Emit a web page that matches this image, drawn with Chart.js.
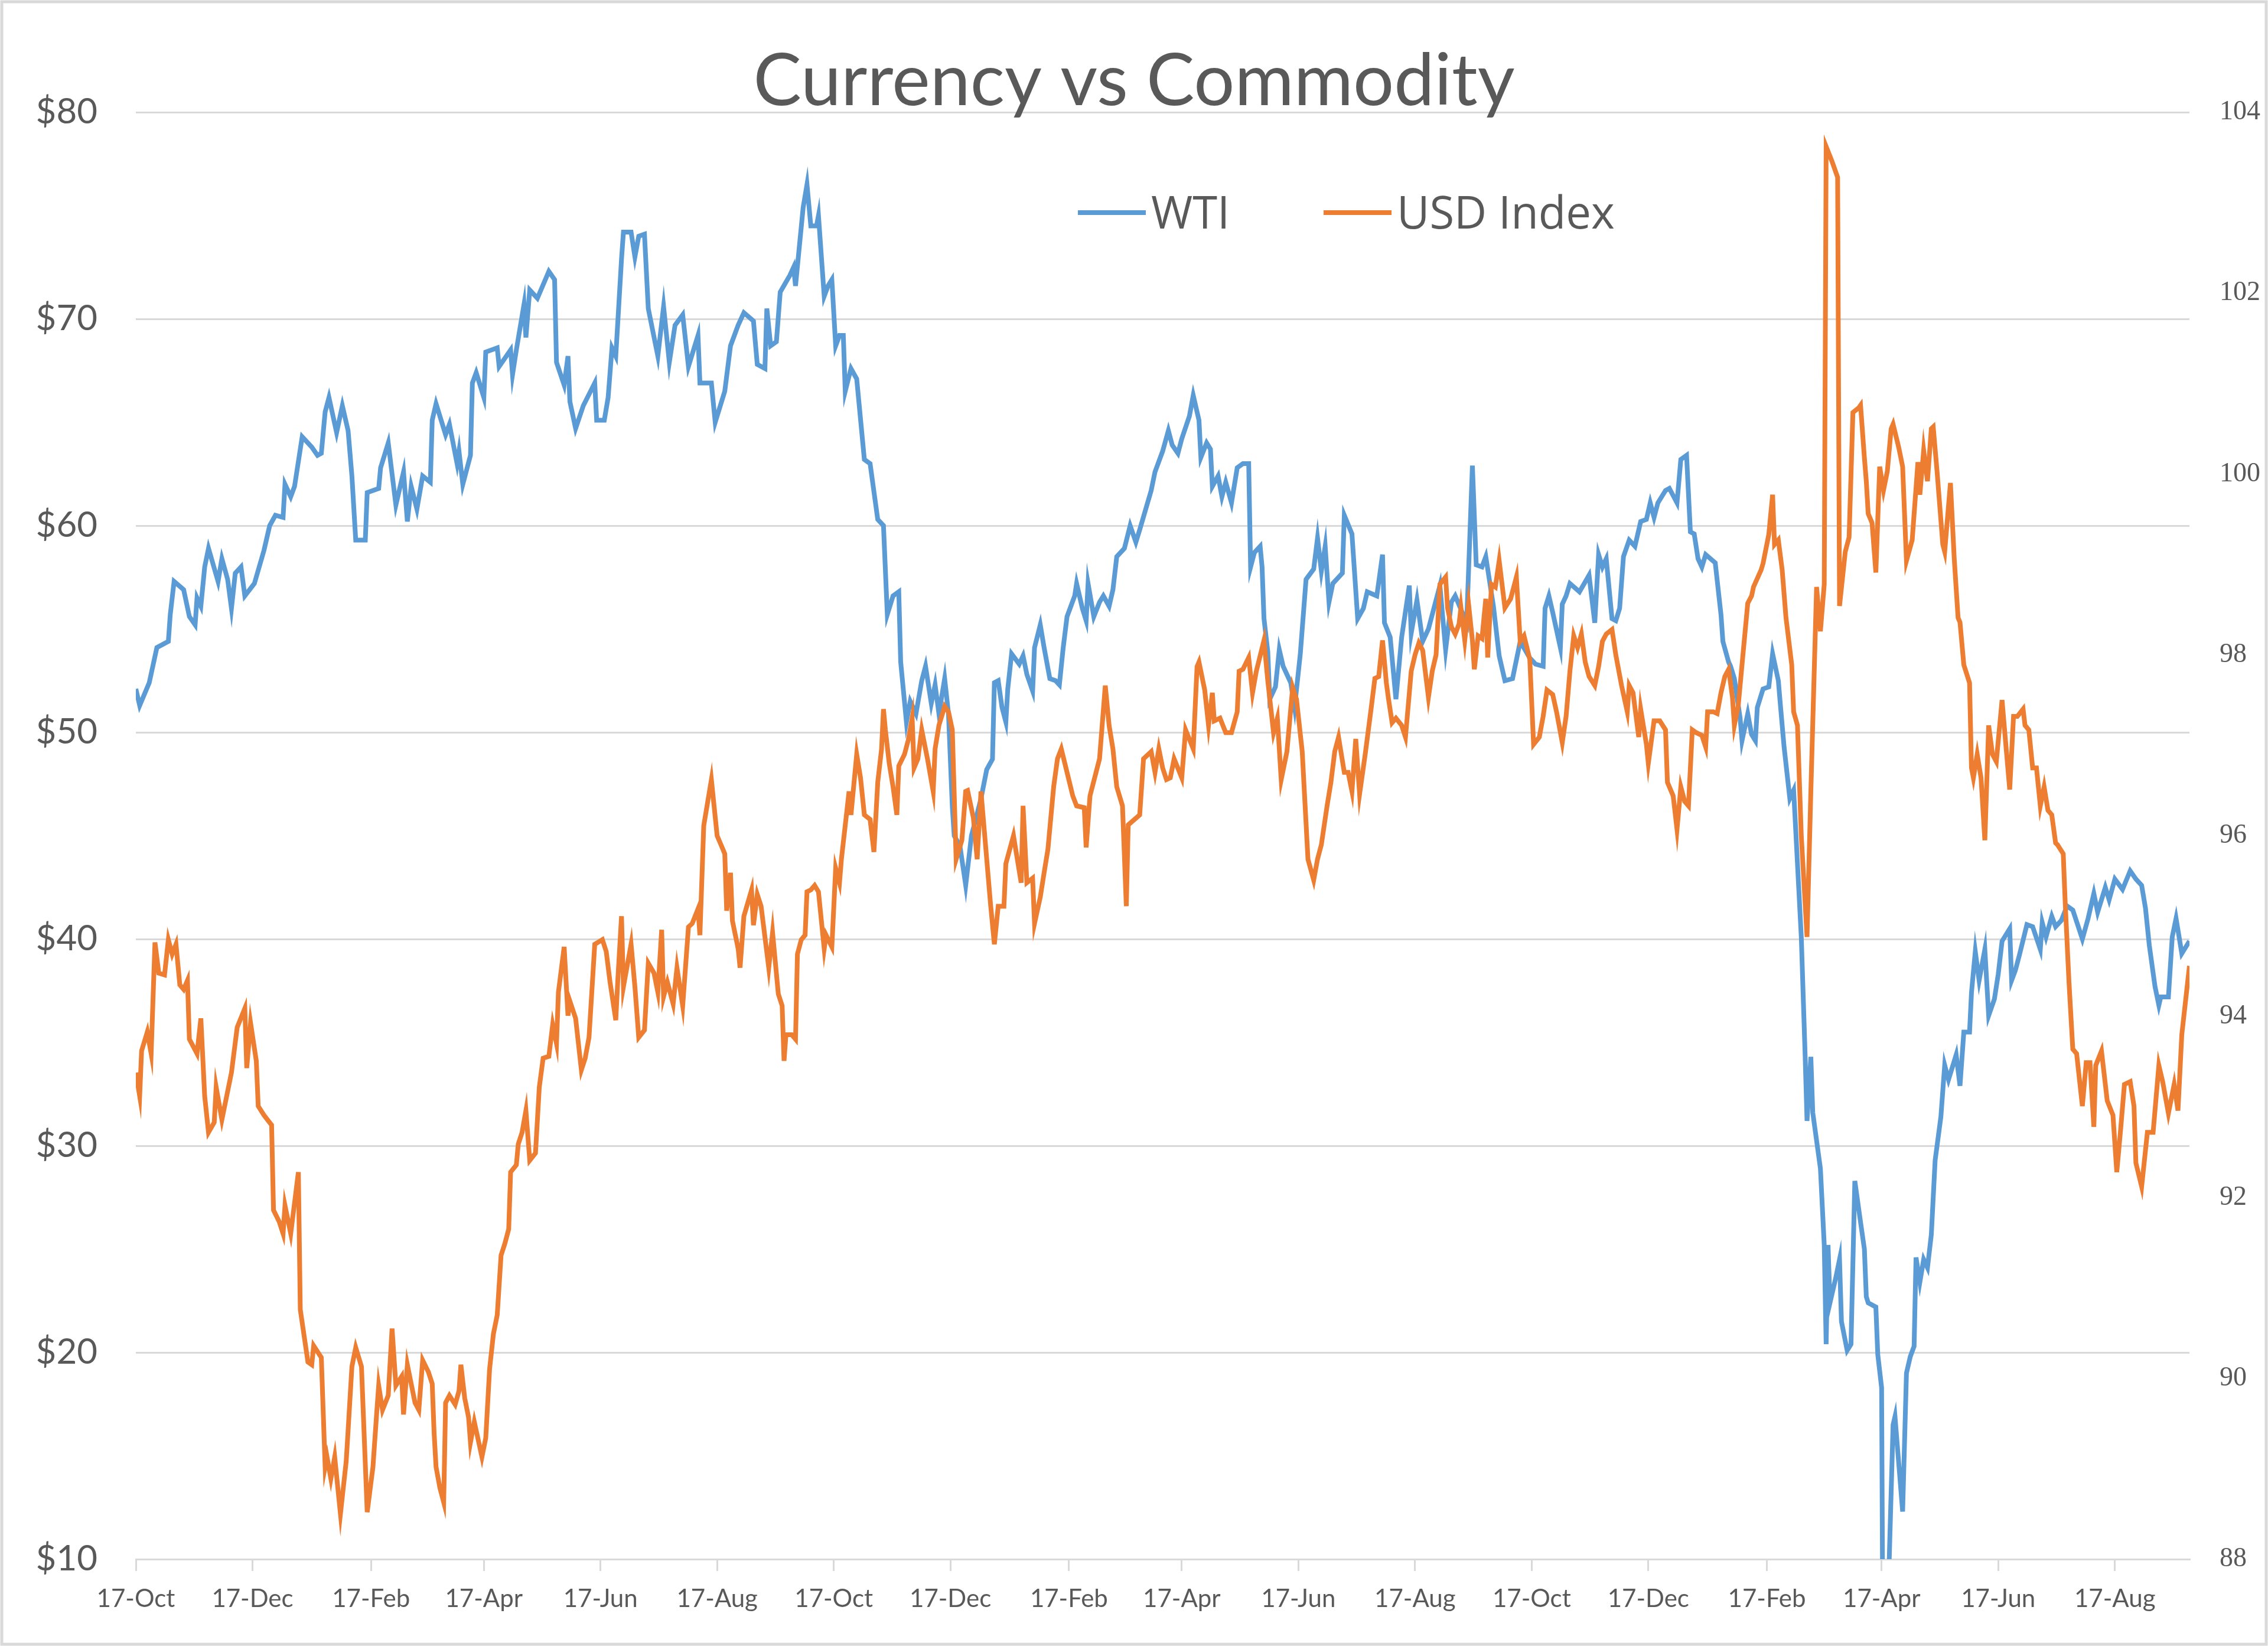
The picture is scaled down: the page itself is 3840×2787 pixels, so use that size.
<!DOCTYPE html>
<html>
<head>
<meta charset="utf-8">
<title>Currency vs Commodity</title>
<script src="https://cdn.jsdelivr.net/npm/chart.js@4.4.0/dist/chart.umd.min.js"></script>
<style>
  html, body { margin: 0; padding: 0; background: #fff; }
  canvas { display: block; }
</style>
</head>
<body>
<canvas id="chart" width="3840" height="2787"></canvas>
<script>
// WTI crude, $ per barrel (left axis)
const wtiDates = [
  '2017-10-17','2017-10-19','2017-10-24','2017-10-28',
  '2017-11-03','2017-11-04','2017-11-06','2017-11-11','2017-11-14','2017-11-17','2017-11-18','2017-11-20','2017-11-22','2017-11-24','2017-11-29',
  '2017-12-01','2017-12-04','2017-12-06','2017-12-08','2017-12-11','2017-12-13','2017-12-18','2017-12-23','2017-12-26','2017-12-29',
  '2018-01-02','2018-01-03','2018-01-06','2018-01-08','2018-01-12','2018-01-17','2018-01-20','2018-01-22','2018-01-24','2018-01-26','2018-01-30',
  '2018-02-02','2018-02-05','2018-02-07','2018-02-09','2018-02-14','2018-02-15','2018-02-21','2018-02-22','2018-02-26',
  '2018-03-02','2018-03-06','2018-03-08','2018-03-10','2018-03-13','2018-03-16','2018-03-20','2018-03-21','2018-03-23','2018-03-28','2018-03-30',
  '2018-04-03','2018-04-04','2018-04-06','2018-04-10','2018-04-11','2018-04-13','2018-04-17','2018-04-18','2018-04-24','2018-04-25',
  '2018-05-01','2018-05-02','2018-05-04','2018-05-08','2018-05-09','2018-05-11','2018-05-15','2018-05-21','2018-05-24','2018-05-25','2018-05-29','2018-05-31',
  '2018-06-01','2018-06-04','2018-06-08','2018-06-14','2018-06-15','2018-06-19','2018-06-21','2018-06-23','2018-06-25','2018-06-28','2018-06-29',
  '2018-07-03','2018-07-05','2018-07-07','2018-07-10','2018-07-12','2018-07-17','2018-07-20','2018-07-23','2018-07-26','2018-07-30',
  '2018-08-02','2018-08-07','2018-08-08','2018-08-14','2018-08-16','2018-08-21','2018-08-24','2018-08-28','2018-08-31',
  '2018-09-05','2018-09-07','2018-09-11','2018-09-12','2018-09-14','2018-09-17','2018-09-19','2018-09-24','2018-09-26','2018-09-27',
  '2018-10-01','2018-10-03','2018-10-05','2018-10-08','2018-10-09','2018-10-12','2018-10-14','2018-10-16','2018-10-18','2018-10-20','2018-10-22','2018-10-23','2018-10-26','2018-10-29',
  '2018-11-02','2018-11-05','2018-11-09','2018-11-12','2018-11-14','2018-11-17','2018-11-20','2018-11-21','2018-11-24','2018-11-26','2018-11-29',
  '2018-12-02','2018-12-04','2018-12-07','2018-12-09','2018-12-11','2018-12-14','2018-12-16','2018-12-18','2018-12-19','2018-12-22','2018-12-25','2018-12-28','2018-12-30',
  '2019-01-02','2019-01-05','2019-01-08','2019-01-09','2019-01-11','2019-01-13','2019-01-15','2019-01-16','2019-01-18','2019-01-22','2019-01-24','2019-01-26','2019-01-29','2019-01-30',
  '2019-02-02','2019-02-04','2019-02-07','2019-02-10','2019-02-12','2019-02-14','2019-02-16','2019-02-18','2019-02-20','2019-02-21','2019-02-24','2019-02-26','2019-02-27',
  '2019-03-02','2019-03-05','2019-03-07','2019-03-10','2019-03-12','2019-03-14','2019-03-18','2019-03-21','2019-03-24','2019-03-26',
  '2019-04-01','2019-04-03','2019-04-07','2019-04-10','2019-04-12','2019-04-15','2019-04-17','2019-04-21','2019-04-23','2019-04-26','2019-04-27','2019-04-30',
  '2019-05-02','2019-05-03','2019-05-06','2019-05-08','2019-05-10','2019-05-13','2019-05-16','2019-05-19','2019-05-22','2019-05-23','2019-05-25','2019-05-28','2019-05-29','2019-05-30',
  '2019-06-01','2019-06-02','2019-06-05','2019-06-07','2019-06-09','2019-06-13','2019-06-15','2019-06-18','2019-06-21','2019-06-25','2019-06-27','2019-06-29',
  '2019-07-01','2019-07-03','2019-07-05','2019-07-10','2019-07-11','2019-07-15','2019-07-18','2019-07-21','2019-07-23','2019-07-28','2019-07-31',
  '2019-08-01','2019-08-04','2019-08-07','2019-08-10','2019-08-14','2019-08-15','2019-08-18','2019-08-21','2019-08-24','2019-08-30',
  '2019-09-02','2019-09-05','2019-09-07','2019-09-13','2019-09-16','2019-09-18','2019-09-21','2019-09-23','2019-09-27','2019-09-30',
  '2019-10-03','2019-10-07','2019-10-11','2019-10-16','2019-10-19','2019-10-23','2019-10-24','2019-10-26','2019-10-28',
  '2019-11-01','2019-11-02','2019-11-04','2019-11-06','2019-11-11','2019-11-16','2019-11-19','2019-11-21','2019-11-23','2019-11-25','2019-11-28','2019-11-30',
  '2019-12-02','2019-12-04','2019-12-07','2019-12-10','2019-12-13','2019-12-16','2019-12-18','2019-12-20','2019-12-22','2019-12-26','2019-12-28',
  '2020-01-01','2020-01-03','2020-01-06','2020-01-08','2020-01-10','2020-01-12','2020-01-14','2020-01-16','2020-01-21','2020-01-24','2020-01-25','2020-01-28','2020-01-29','2020-01-31',
  '2020-02-03','2020-02-04','2020-02-07','2020-02-09','2020-02-11','2020-02-12','2020-02-15','2020-02-18','2020-02-20','2020-02-23','2020-02-24','2020-02-26','2020-02-29',
  '2020-03-02','2020-03-06','2020-03-08','2020-03-09','2020-03-11','2020-03-12','2020-03-16','2020-03-18','2020-03-19','2020-03-20','2020-03-21','2020-03-24','2020-03-26','2020-03-27','2020-03-30',
  '2020-04-01','2020-04-03','2020-04-06','2020-04-08','2020-04-09','2020-04-10','2020-04-14','2020-04-15','2020-04-17','2020-04-20','2020-04-21','2020-04-23','2020-04-24','2020-04-28','2020-04-30',
  '2020-05-02','2020-05-04','2020-05-05','2020-05-07','2020-05-09','2020-05-11','2020-05-13','2020-05-15','2020-05-18','2020-05-20','2020-05-22','2020-05-26','2020-05-28','2020-05-30',
  '2020-06-02','2020-06-03','2020-06-05','2020-06-07','2020-06-10','2020-06-12','2020-06-15','2020-06-17','2020-06-19','2020-06-23','2020-06-24','2020-06-26','2020-06-28',
  '2020-07-02','2020-07-05','2020-07-09','2020-07-10','2020-07-12','2020-07-15','2020-07-17','2020-07-20','2020-07-23','2020-07-26','2020-07-31',
  '2020-08-03','2020-08-06','2020-08-08','2020-08-12','2020-08-14','2020-08-17','2020-08-21','2020-08-25','2020-08-28','2020-08-31',
  '2020-09-02','2020-09-04','2020-09-07','2020-09-09','2020-09-10','2020-09-14','2020-09-16','2020-09-18','2020-09-21','2020-09-25'
];
const wtiPrices = [
  52.1,51.3,52.4,54.1,
  54.4,55.7,57.3,56.9,55.6,55.2,56.5,56.1,58.0,58.9,57.3,
  58.4,57.4,56.0,57.7,58.0,56.6,57.2,58.8,60.0,60.5,
  60.4,62.0,61.4,61.9,64.3,63.8,63.4,63.5,65.5,66.2,64.5,
  65.8,64.6,62.4,59.3,59.3,61.6,61.8,62.8,64.0,
  61.0,62.6,60.2,61.9,60.8,62.4,62.1,65.1,65.9,64.4,64.9,
  63.0,63.6,62.0,63.4,66.9,67.4,66.2,68.4,68.6,67.7,
  68.5,67.3,68.5,70.7,69.1,71.4,71.0,72.3,71.9,67.9,66.8,68.2,
  66.0,64.7,65.8,66.9,65.1,65.1,66.2,68.6,68.2,72.9,74.2,
  74.2,73.0,74.0,74.1,70.5,68.2,70.6,67.9,69.7,70.2,
  67.7,69.2,66.9,66.9,65.0,66.5,68.7,69.7,70.3,
  69.9,67.8,67.6,70.5,68.7,68.9,71.3,72.1,72.5,71.6,
  75.4,76.5,74.5,74.5,75.0,71.1,71.6,71.9,68.7,69.2,69.2,66.5,67.6,67.1,
  63.2,63.0,60.3,60.0,55.7,56.6,56.8,53.4,50.5,51.5,50.9,
  52.5,53.2,51.4,52.3,50.9,52.6,50.9,46.4,45.0,44.5,42.6,45.0,45.7,
  46.8,48.2,48.7,52.4,52.5,51.2,50.5,52.1,53.8,53.3,53.7,52.8,52.0,54.1,
  55.2,54.1,52.6,52.5,52.3,54.1,55.6,56.1,56.6,57.2,56.0,55.4,57.2,
  55.6,56.3,56.6,56.1,56.9,58.5,58.9,60.0,59.2,59.8,
  61.7,62.6,63.6,64.6,63.9,63.5,64.2,65.3,66.3,65.1,63.3,64.0,
  63.7,61.9,62.4,61.4,62.1,61.1,62.8,63.0,63.0,58.0,58.7,59.0,58.0,55.5,
  53.9,51.6,52.2,54.0,53.2,52.4,51.2,53.8,57.4,57.9,59.4,57.8,
  59.0,56.3,57.2,57.7,60.5,59.6,55.5,56.0,56.8,56.6,58.6,
  55.3,54.6,51.6,54.6,57.1,54.8,56.4,54.4,55.0,57.1,
  54.0,56.3,56.6,55.3,62.9,58.1,58.0,58.5,56.1,53.7,
  52.5,52.6,54.4,53.6,53.3,53.2,56.0,56.6,55.8,
  54.1,56.2,56.6,57.2,56.8,57.6,55.3,58.6,58.0,58.4,55.5,55.4,
  56.0,58.5,59.3,59.0,60.2,60.3,61.1,60.4,61.1,61.7,61.8,
  61.1,63.2,63.4,59.7,59.6,58.4,58.0,58.6,58.2,55.7,54.4,53.4,53.2,52.6,
  50.7,49.6,50.9,49.9,49.6,51.2,52.1,52.2,53.8,52.5,51.4,49.3,46.8,
  47.2,40.1,34.4,31.2,34.3,31.6,28.9,25.2,20.4,25.2,22.4,23.6,24.5,21.5,20.1,
  20.4,28.3,26.3,25.0,22.7,22.4,22.2,19.9,18.3,-37.6,10.0,16.5,16.9,12.3,19.0,
  19.8,20.3,24.6,23.4,24.5,24.1,25.7,29.3,31.4,33.9,33.2,34.4,32.9,35.5,
  35.5,37.4,39.4,38.0,39.5,36.3,37.1,38.3,39.9,40.5,38.0,38.5,39.2,
  40.7,40.6,39.5,40.8,40.1,41.1,40.6,40.9,41.6,41.4,40.0,
  41.0,42.2,41.3,42.5,41.9,42.9,42.4,43.3,42.9,42.6,
  41.5,39.7,37.7,36.8,37.2,37.2,40.1,41.0,39.3,39.9
];

// US dollar index (right axis)
const usdDates = [
  '2017-10-17','2017-10-19','2017-10-20','2017-10-23','2017-10-25','2017-10-27','2017-10-29',
  '2017-11-01','2017-11-03','2017-11-05','2017-11-07','2017-11-09','2017-11-11','2017-11-13','2017-11-14','2017-11-18','2017-11-20','2017-11-22','2017-11-24','2017-11-27','2017-11-28',
  '2017-12-01','2017-12-06','2017-12-09','2017-12-13','2017-12-14','2017-12-16','2017-12-19','2017-12-20','2017-12-23','2017-12-27','2017-12-28','2017-12-31',
  '2018-01-02','2018-01-03','2018-01-06','2018-01-10','2018-01-11','2018-01-15','2018-01-17','2018-01-18','2018-01-22','2018-01-24','2018-01-25','2018-01-27','2018-01-29',
  '2018-02-01','2018-02-04','2018-02-05','2018-02-07','2018-02-09','2018-02-12','2018-02-15','2018-02-18','2018-02-20','2018-02-21','2018-02-23','2018-02-26','2018-02-28',
  '2018-03-02','2018-03-05','2018-03-06','2018-03-08','2018-03-12','2018-03-14','2018-03-16','2018-03-19','2018-03-21','2018-03-22','2018-03-23','2018-03-25','2018-03-27','2018-03-28','2018-03-30',
  '2018-04-02','2018-04-04','2018-04-05','2018-04-07','2018-04-09','2018-04-10','2018-04-12','2018-04-16','2018-04-18','2018-04-20','2018-04-22','2018-04-24','2018-04-26','2018-04-28','2018-04-30',
  '2018-05-01','2018-05-04','2018-05-05','2018-05-07','2018-05-09','2018-05-11','2018-05-14','2018-05-16','2018-05-18','2018-05-21','2018-05-23','2018-05-25','2018-05-26','2018-05-29','2018-05-31',
  '2018-06-01','2018-06-04','2018-06-07','2018-06-09','2018-06-11','2018-06-14','2018-06-18','2018-06-20','2018-06-22','2018-06-25','2018-06-26','2018-06-28','2018-06-29',
  '2018-07-03','2018-07-05','2018-07-07','2018-07-10','2018-07-12','2018-07-15','2018-07-17','2018-07-19','2018-07-20','2018-07-22','2018-07-25','2018-07-27','2018-07-30',
  '2018-08-02','2018-08-04','2018-08-07','2018-08-08','2018-08-10','2018-08-14','2018-08-17','2018-08-19','2018-08-21','2018-08-22','2018-08-24','2018-08-25','2018-08-28','2018-08-29','2018-08-31',
  '2018-09-04','2018-09-05','2018-09-07','2018-09-09','2018-09-13','2018-09-15','2018-09-18','2018-09-20','2018-09-21','2018-09-22','2018-09-25','2018-09-27','2018-09-28','2018-09-30',
  '2018-10-02','2018-10-03','2018-10-05','2018-10-07','2018-10-09','2018-10-10','2018-10-12','2018-10-13','2018-10-16','2018-10-18','2018-10-20','2018-10-21','2018-10-25','2018-10-26','2018-10-29','2018-10-31',
  '2018-11-02','2018-11-05','2018-11-07','2018-11-09','2018-11-11','2018-11-12','2018-11-13','2018-11-15','2018-11-17','2018-11-19','2018-11-20','2018-11-23','2018-11-25','2018-11-27','2018-11-28','2018-11-30',
  '2018-12-02','2018-12-05','2018-12-08','2018-12-09','2018-12-11','2018-12-14','2018-12-16','2018-12-18','2018-12-20','2018-12-23','2018-12-25','2018-12-26','2018-12-29','2018-12-31',
  '2019-01-02','2019-01-07','2019-01-09','2019-01-11','2019-01-14','2019-01-15','2019-01-19','2019-01-23','2019-01-24','2019-01-26','2019-01-29','2019-01-30',
  '2019-02-02','2019-02-04','2019-02-06','2019-02-09','2019-02-11','2019-02-13','2019-02-16','2019-02-19','2019-02-21','2019-02-25','2019-02-26','2019-02-28',
  '2019-03-05','2019-03-08','2019-03-10','2019-03-12','2019-03-14','2019-03-17','2019-03-19','2019-03-20','2019-03-26','2019-03-28',
  '2019-04-01','2019-04-03','2019-04-05','2019-04-07','2019-04-09','2019-04-11','2019-04-13','2019-04-17','2019-04-19','2019-04-23','2019-04-25','2019-04-26','2019-04-29',
  '2019-05-01','2019-05-03','2019-05-04','2019-05-07','2019-05-10','2019-05-13','2019-05-16','2019-05-17','2019-05-19','2019-05-22','2019-05-24','2019-05-26','2019-05-30',
  '2019-06-01','2019-06-04','2019-06-06','2019-06-08','2019-06-11','2019-06-14','2019-06-16','2019-06-19','2019-06-22','2019-06-25','2019-06-27','2019-06-29',
  '2019-07-02','2019-07-04','2019-07-06','2019-07-08','2019-07-11','2019-07-13','2019-07-15','2019-07-17','2019-07-19','2019-07-22','2019-07-25','2019-07-27','2019-07-29','2019-07-31',
  '2019-08-02','2019-08-03','2019-08-05','2019-08-07','2019-08-10','2019-08-12','2019-08-15','2019-08-17','2019-08-19','2019-08-21','2019-08-24','2019-08-26','2019-08-28','2019-08-30',
  '2019-09-02','2019-09-03','2019-09-05','2019-09-07','2019-09-09','2019-09-10','2019-09-12','2019-09-14','2019-09-16','2019-09-17','2019-09-19','2019-09-21','2019-09-23','2019-09-24','2019-09-26','2019-09-28','2019-09-30',
  '2019-10-03','2019-10-06','2019-10-09','2019-10-11','2019-10-13','2019-10-16','2019-10-18','2019-10-21','2019-10-23','2019-10-25','2019-10-28','2019-10-30',
  '2019-11-02','2019-11-04','2019-11-06','2019-11-08','2019-11-10','2019-11-12','2019-11-14','2019-11-16','2019-11-19','2019-11-21','2019-11-23','2019-11-25','2019-11-28','2019-11-30',
  '2019-12-03','2019-12-06','2019-12-07','2019-12-09','2019-12-12','2019-12-13','2019-12-16','2019-12-17','2019-12-20','2019-12-23','2019-12-26','2019-12-27','2019-12-30',
  '2020-01-01','2020-01-03','2020-01-05','2020-01-07','2020-01-09','2020-01-11','2020-01-14','2020-01-16','2020-01-17','2020-01-20','2020-01-22','2020-01-24','2020-01-26','2020-01-28','2020-01-30','2020-01-31',
  '2020-02-02','2020-02-04','2020-02-07','2020-02-09','2020-02-10','2020-02-14','2020-02-15','2020-02-18','2020-02-20','2020-02-21','2020-02-23','2020-02-25','2020-02-27',
  '2020-03-01','2020-03-02','2020-03-04','2020-03-06','2020-03-09','2020-03-11','2020-03-14','2020-03-16','2020-03-18','2020-03-19','2020-03-22','2020-03-25','2020-03-26','2020-03-29','2020-03-31',
  '2020-04-02','2020-04-05','2020-04-06','2020-04-08','2020-04-09','2020-04-10','2020-04-12','2020-04-14','2020-04-16','2020-04-18','2020-04-20','2020-04-22','2020-04-23','2020-04-26','2020-04-28','2020-04-30',
  '2020-05-03','2020-05-06','2020-05-07','2020-05-09','2020-05-11','2020-05-13','2020-05-14','2020-05-16','2020-05-19','2020-05-20','2020-05-23','2020-05-25','2020-05-27','2020-05-28','2020-05-30',
  '2020-06-02','2020-06-03','2020-06-04','2020-06-06','2020-06-08','2020-06-10','2020-06-12','2020-06-14','2020-06-16','2020-06-19','2020-06-21','2020-06-23','2020-06-25','2020-06-27','2020-06-30',
  '2020-07-01','2020-07-03','2020-07-05','2020-07-07','2020-07-09','2020-07-11','2020-07-13','2020-07-15','2020-07-17','2020-07-18','2020-07-21','2020-07-22','2020-07-24','2020-07-26','2020-07-28','2020-07-31',
  '2020-08-02','2020-08-04','2020-08-06','2020-08-07','2020-08-10','2020-08-13','2020-08-16','2020-08-18','2020-08-20','2020-08-22','2020-08-25','2020-08-27','2020-08-28','2020-08-31',
  '2020-09-03','2020-09-06','2020-09-09','2020-09-11','2020-09-14','2020-09-17','2020-09-19','2020-09-21','2020-09-25'
];
const usdIndex = [
  93.38,93.12,93.62,93.83,93.59,94.82,94.48,
  94.46,94.85,94.69,94.80,94.35,94.30,94.40,93.75,93.59,93.98,93.12,92.72,92.83,93.22,
  92.86,93.38,93.88,94.09,93.43,93.93,93.51,93.01,92.91,92.80,91.86,91.73,
  91.60,91.91,91.60,92.28,90.76,90.18,90.15,90.36,90.23,89.02,89.13,88.89,89.13,
  88.50,89.08,89.42,90.13,90.34,90.13,88.52,89.02,89.63,89.92,89.65,89.81,90.55,
  89.92,90.02,89.60,90.15,89.73,89.65,90.20,90.07,89.94,89.39,89.02,88.79,88.63,89.73,89.81,
  89.71,89.86,90.15,89.78,89.57,89.29,89.52,89.13,89.34,90.10,90.49,90.70,91.36,91.49,91.65,
  92.28,92.36,92.59,92.72,92.96,92.41,92.49,93.22,93.54,93.56,93.91,93.70,94.27,94.77,94.01,
  94.17,93.98,93.41,93.54,93.77,94.80,94.85,94.72,94.38,93.96,94.38,95.11,94.33,
  94.80,94.33,93.77,93.85,94.59,94.48,94.27,94.96,94.22,94.38,94.14,94.54,94.12,
  94.99,95.03,95.19,94.90,96.11,96.62,96.00,95.90,95.80,95.17,95.59,95.06,94.75,94.54,95.11,
  95.40,95.01,95.35,95.22,94.54,94.93,94.25,94.12,93.51,93.80,93.80,93.75,94.69,94.85,
  94.90,95.38,95.40,95.45,95.38,95.17,94.75,94.90,94.77,95.64,95.48,95.74,96.49,96.23,96.90,96.64,
  96.23,96.18,95.82,96.59,96.96,97.40,97.17,96.80,96.54,96.23,96.77,96.90,97.06,97.30,96.75,96.85,
  97.17,96.85,96.49,96.96,97.22,97.43,97.37,97.17,95.74,95.95,96.49,96.50,96.20,95.74,
  96.49,95.24,94.80,95.22,95.22,95.69,96.00,95.48,96.33,95.48,95.53,95.03,
  95.32,95.59,95.85,96.54,96.85,96.96,96.70,96.44,96.33,96.31,95.87,96.44,
  96.85,97.66,97.22,96.96,96.54,96.33,95.22,96.12,96.23,96.85,
  96.93,96.70,96.96,96.75,96.62,96.64,96.85,96.64,97.17,96.96,97.87,97.92,97.61,
  97.22,97.58,97.27,97.30,97.14,97.14,97.37,97.82,97.84,97.97,97.58,97.82,98.16,
  97.71,97.14,97.30,96.62,96.93,97.64,97.51,96.93,95.74,95.51,95.74,95.90,
  96.33,96.59,96.93,97.09,96.70,96.70,96.49,97.07,96.46,96.91,97.40,97.74,97.76,98.16,
  97.69,97.53,97.25,97.30,97.22,97.09,97.82,98.00,98.13,98.05,97.53,97.82,98.00,98.78,
  98.86,98.52,98.31,98.23,98.34,98.52,98.16,98.56,98.16,97.84,98.21,98.18,98.62,97.97,98.78,98.75,99.04,
  98.52,98.62,98.86,98.15,98.21,97.95,97.01,97.09,97.32,97.61,97.56,97.37,
  97.03,97.32,97.82,98.21,98.08,98.23,97.92,97.76,97.66,97.87,98.15,98.23,98.28,98.00,
  97.66,97.37,97.66,97.58,97.09,97.40,97.01,96.80,97.27,97.27,97.17,96.59,96.44,
  96.07,96.54,96.38,96.33,97.17,97.14,97.11,96.98,97.37,97.37,97.35,97.58,97.76,97.84,97.53,97.22,
  97.43,97.89,98.57,98.65,98.75,98.94,99.01,99.33,99.77,99.22,99.27,98.94,98.41,
  97.89,97.37,97.22,96.00,94.88,96.49,98.75,98.26,98.78,103.62,103.46,103.28,98.54,99.14,99.30,
  100.68,100.73,100.76,100.18,99.92,99.56,99.46,98.91,100.08,99.82,100.03,100.50,100.55,100.29,100.08,99.04,
  99.27,100.13,99.77,100.26,99.92,100.50,100.52,100.03,99.22,99.14,99.90,99.06,98.41,98.36,97.89,
  97.69,96.75,96.64,96.90,96.64,95.95,97.22,96.90,96.82,97.50,97.00,96.51,97.32,97.32,97.40,
  97.22,97.17,96.75,96.75,96.33,96.54,96.28,96.23,95.92,95.90,95.80,95.27,94.38,93.64,93.59,93.01,
  93.49,93.49,92.78,93.46,93.62,93.07,92.91,92.28,92.75,93.25,93.28,93.01,92.38,92.12,
  92.72,92.72,93.46,93.28,92.93,93.25,92.96,93.80,94.56
];

// date axis ticks, every two months
const tickDates = [
  '2017-10-17','2017-12-17','2018-02-17','2018-04-17','2018-06-17','2018-08-17',
  '2018-10-17','2018-12-17','2019-02-17','2019-04-17','2019-06-17','2019-08-17',
  '2019-10-17','2019-12-17','2020-02-17','2020-04-17','2020-06-17','2020-08-17'
];
const tickLabels = [
  '17-Oct','17-Dec','17-Feb','17-Apr','17-Jun','17-Aug',
  '17-Oct','17-Dec','17-Feb','17-Apr','17-Jun','17-Aug',
  '17-Oct','17-Dec','17-Feb','17-Apr','17-Jun','17-Aug'
];

const chartTitle = 'Currency vs Commodity';
const blue = '#5B9BD5';
const orange = '#ED7D31';
const textGrey = '#595959';
const gridGrey = '#d9d9d9';

const origin = Date.parse(wtiDates[0]);
const toDay = d => Math.round((Date.parse(d) - origin) / 86400000);
const lastDay = toDay(wtiDates[wtiDates.length - 1]);
const tickDays = tickDates.map(toDay);

const wtiPoints = wtiDates.map((d, i) => ({ x: toDay(d), y: wtiPrices[i] }));
const usdPoints = usdDates.map((d, i) => ({ x: toDay(d), y: usdIndex[i] }));

// white page with the thin grey frame Excel puts round a chart
const framePlugin = {
	id: 'frame',
	beforeDraw(chart) {
		const { ctx, width, height } = chart;
		ctx.save();
		ctx.fillStyle = '#ffffff';
		ctx.fillRect(0, 0, width, height);
		ctx.strokeStyle = gridGrey;
		ctx.lineWidth = 5;
		ctx.strokeRect(3, 3, width - 6, height - 6);
		ctx.restore();
	}
};

// title and the legend sitting inside the plot
const headerPlugin = {
	id: 'header',
	afterDraw(chart) {
		const ctx = chart.ctx;
		ctx.save();
		ctx.fillStyle = textGrey;
		ctx.font = '122px Lato';
		ctx.textAlign = 'center';
		ctx.textBaseline = 'alphabetic';
		ctx.fillText(chartTitle, chart.width / 2, 178);

		ctx.font = '76px "Open Sans"';
		ctx.textAlign = 'left';
		const items = [
			{ ds: chart.data.datasets[1], x: 1825 },
			{ ds: chart.data.datasets[0], x: 2241 }
		];
		items.forEach(item => {
			ctx.strokeStyle = item.ds.borderColor;
			ctx.lineWidth = 8;
			ctx.lineCap = 'butt';
			ctx.beginPath();
			ctx.moveTo(item.x, 360);
			ctx.lineTo(item.x + 115, 360);
			ctx.stroke();
			ctx.fillStyle = textGrey;
			ctx.fillText(item.ds.label, item.x + 124, 387);
		});
		ctx.restore();
	}
};

new Chart(document.getElementById('chart'), {
	type: 'line',
	data: {
		datasets: [
			{
				label: 'USD Index',
				data: usdPoints,
				yAxisID: 'y1',
				borderColor: orange,
				backgroundColor: orange,
				borderWidth: 8,
				pointRadius: 0,
				tension: 0,
				order: 1
			},
			{
				label: 'WTI',
				data: wtiPoints,
				yAxisID: 'y',
				borderColor: blue,
				backgroundColor: blue,
				borderWidth: 8,
				pointRadius: 0,
				tension: 0,
				order: 2
			}
		]
	},
	options: {
		responsive: false,
		animation: false,
		devicePixelRatio: 1,
		layout: { padding: { top: 190, left: 0, right: 0, bottom: 0 } },
		plugins: {
			legend: { display: false },
			title: { display: false },
			tooltip: { enabled: false }
		},
		scales: {
			x: {
				type: 'linear',
				min: 0,
				max: lastDay,
				afterBuildTicks(scale) {
					scale.ticks = tickDays.map(v => ({ value: v }));
				},
				afterFit(scale) {
					scale.height = 147;
				},
				ticks: {
					autoSkip: false,
					maxRotation: 0,
					minRotation: 0,
					padding: 22,
					color: textGrey,
					font: { family: 'Lato', size: 42 },
					callback(value, index) {
						return tickLabels[index];
					}
				},
				grid: { drawOnChartArea: false, drawTicks: true, tickLength: 20, color: gridGrey, lineWidth: 3 },
				border: { display: true, color: gridGrey, width: 3 }
			},
			y: {
				position: 'left',
				min: 10,
				max: 80,
				afterFit(scale) {
					scale.width = 230;
				},
				ticks: {
					stepSize: 10,
					padding: 65,
					color: textGrey,
					font: { family: 'Lato', size: 60 },
					callback: v => '$' + v
				},
				grid: { color: gridGrey, lineWidth: 3, drawTicks: false },
				border: { display: false }
			},
			y1: {
				position: 'right',
				min: 88,
				max: 104,
				afterFit(scale) {
					scale.width = 133;
				},
				ticks: {
					stepSize: 2,
					padding: 51,
					color: textGrey,
					font: { family: 'Liberation Serif', size: 46 }
				},
				grid: { drawOnChartArea: false, drawTicks: false },
				border: { display: false }
			}
		}
	},
	plugins: [framePlugin, headerPlugin]
});
</script>
</body>
</html>
